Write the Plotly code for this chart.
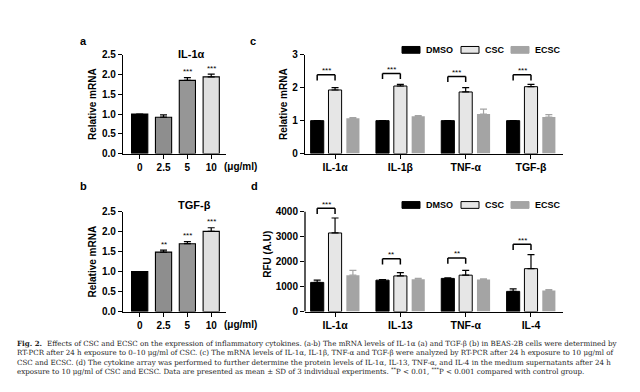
import plotly.graph_objects as go

# ---------------- data ----------------
dose_labels = ["0", "2.5", "5", "10"]
il1a_mrna = [1.00, 0.92, 1.85, 1.94]
il1a_mrna_sd = [0.00, 0.06, 0.07, 0.07]
il1a_sig = ["", "", "***", "***"]

tgfb_mrna = [1.00, 1.49, 1.70, 2.01]
tgfb_mrna_sd = [0.00, 0.05, 0.05, 0.09]
tgfb_sig = ["", "**", "***", "***"]

groups = ["DMSO", "CSC", "ECSC"]

genes_c = ["IL-1α", "IL-1β", "TNF-α", "TGF-β"]
c_dmso = [1.00, 1.00, 1.00, 1.00]
c_dmso_sd = [0.00, 0.00, 0.00, 0.00]
c_csc = [1.93, 2.05, 1.87, 2.03]
c_csc_sd = [0.07, 0.05, 0.13, 0.07]
c_ecsc = [1.07, 1.13, 1.20, 1.11]
c_ecsc_sd = [0.02, 0.02, 0.15, 0.07]
c_sig = ["***", "***", "***", "***"]
c_bracket = [2.39, 2.43, 2.34, 2.39]

cyto_d = ["IL-1α", "IL-13", "TNF-α", "IL-4"]
d_dmso = [1170, 1260, 1330, 810]
d_dmso_sd = [90, 25, 20, 100]
d_csc = [3150, 1430, 1460, 1720]
d_csc_sd = [600, 130, 190, 560]
d_ecsc = [1460, 1300, 1290, 850]
d_ecsc_sd = [190, 30, 20, 35]
d_sig = ["***", "**", "**", "***"]
d_bracket = [4140, 2120, 2150, 2700]

caption_head = "Fig. 2."
caption_lines = [
    "Effects of CSC and ECSC on the expression of inflammatory cytokines. (a-b) The mRNA levels of IL-1α (a) and TGF-β (b) in BEAS-2B cells were determined by",
    "RT-PCR after 24 h exposure to 0–10 μg/ml of CSC. (c) The mRNA levels of IL-1α, IL-1β, TNF-α and TGF-β were analyzed by RT-PCR after 24 h exposure to 10 μg/ml of",
    "CSC and ECSC. (d) The cytokine array was performed to further determine the protein levels of IL-1α, IL-13, TNF-α, and IL-4 in the medium supernatants after 24 h",
    "exposure to 10 μg/ml of CSC and ECSC. Data are presented as mean ± SD of 3 individual experiments. <sup>**</sup>P &lt; 0.01, <sup>***</sup>P &lt; 0.001 compared with control group.",
]

# ---------------- style ----------------
W, H = 640, 392
SANS = "Liberation Sans, Arial, sans-serif"
SERIF = "DejaVu Serif, serif"
dose_colors = ["#000000", "#8e8e8e", "#969696", "#e0e0e0"]
grp_fill = {"DMSO": "#000000", "CSC": "#e6e6e6", "ECSC": "#a4a4a4"}
grp_line = {"DMSO": 1.0, "CSC": 1.0, "ECSC": 0}
grp_err = {"DMSO": "#000000", "CSC": "#000000", "ECSC": "#a4a4a4"}

def px(x):
    return x / W

def py(y):
    return 1 - y / H

BARGAP = 0.18
BARGROUPGAP = 0.265
SLOT = (1 - BARGAP) / 3

fig = go.Figure()

def err(arr, color):
    return dict(type="data", array=arr, arrayminus=[0] * len(arr), symmetric=False,
                color=color, thickness=1.2, width=3.5)

# panel a / b
for vals, sds, ax in [(il1a_mrna, il1a_mrna_sd, ""), (tgfb_mrna, tgfb_mrna_sd, "2")]:
    fig.add_trace(go.Bar(x=dose_labels, y=vals, width=0.68,
                         marker=dict(color=dose_colors, line=dict(color="black", width=1.1)),
                         error_y=err(sds, "black"), showlegend=False,
                         xaxis="x" + ax, yaxis="y" + ax))

# panel c / d
series_c = {"DMSO": (c_dmso, c_dmso_sd), "CSC": (c_csc, c_csc_sd), "ECSC": (c_ecsc, c_ecsc_sd)}
series_d = {"DMSO": (d_dmso, d_dmso_sd), "CSC": (d_csc, d_csc_sd), "ECSC": (d_ecsc, d_ecsc_sd)}
for cats, series, ax in [(genes_c, series_c, "3"), (cyto_d, series_d, "4")]:
    for g in groups:
        vals, sds = series[g]
        fig.add_trace(go.Bar(name=g, x=cats, y=vals,
                             marker=dict(color=grp_fill[g], line=dict(color="black", width=grp_line[g])),
                             error_y=err(sds, grp_err[g]), showlegend=False,
                             xaxis="x" + ax, yaxis="y" + ax))

axis_common = dict(showline=True, linecolor="black", linewidth=1.3, ticks="outside",
                   ticklen=4, tickwidth=1.3, tickcolor="black", showgrid=False,
                   zeroline=False, tickfont=dict(family=SANS, size=10, color="black", weight="bold"))
title_font = dict(family=SANS, size=10, color="black", weight="bold")

xa_dom = [px(115), px(218)]
xc_dom = [px(297), px(555)]
top_dom = [py(144), py(42)]
bot_dom = [py(307), py(204)]
d_top_val = 4600
d_dom = [py(307), py(307 - 103 * d_top_val / 4000)]

fig.update_layout(
    width=W, height=H, margin=dict(l=0, r=0, t=0, b=0),
    paper_bgcolor="white", plot_bgcolor="white",
    barmode="group", bargap=BARGAP, bargroupgap=BARGROUPGAP,
    font=dict(family=SANS, color="black"),
    xaxis=dict(axis_common, domain=xa_dom, anchor="y", type="category", range=[-0.70, 3.62]),
    yaxis=dict(axis_common, domain=top_dom, anchor="x", range=[0, 2.5], dtick=0.5, tickformat=".1f",
               title=dict(text="Relative mRNA", font=title_font, standoff=3)),
    xaxis2=dict(axis_common, domain=xa_dom, anchor="y2", type="category", range=[-0.70, 3.62]),
    yaxis2=dict(axis_common, domain=bot_dom, anchor="x2", range=[0, 2.5], dtick=0.5, tickformat=".1f",
                title=dict(text="Relative mRNA", font=title_font, standoff=3)),
    xaxis3=dict(axis_common, domain=xc_dom, anchor="y3", type="category", range=[-0.46, 3.49]),
    yaxis3=dict(axis_common, domain=top_dom, anchor="x3", range=[0, 3], dtick=1,
                title=dict(text="Relative mRNA", font=title_font, standoff=2)),
    xaxis4=dict(axis_common, domain=xc_dom, anchor="y4", type="category", range=[-0.46, 3.49]),
    yaxis4=dict(axis_common, domain=d_dom, anchor="x4", range=[0, d_top_val], showline=False,
                tickvals=[0, 1000, 2000, 3000, 4000],
                title=dict(text="RFU (A.U)", font=title_font, standoff=2)),
)
fig.update_layout(xaxis3_tickfont_size=10.5, xaxis4_tickfont_size=10.5)

shapes = []
ann = []

# y axis line of panel d up to the last tick
shapes.append(dict(type="line", xref="x4 domain", yref="y4", x0=0, x1=0, y0=0, y1=4000,
                   line=dict(color="black", width=1.3)))

# stars above bars in a / b
for vals, sds, sig, ax in [(il1a_mrna, il1a_mrna_sd, il1a_sig, ""), (tgfb_mrna, tgfb_mrna_sd, tgfb_sig, "2")]:
    for i, s in enumerate(sig):
        if s:
            ann.append(dict(x=i, y=vals[i] + sds[i], xref="x" + ax, yref="y" + ax, text=s,
                            showarrow=False, yanchor="middle", yshift=6,
                            font=dict(family=SANS, size=8, color="black")))

# significance brackets in c / d
for br, sig, ax, leg in [(c_bracket, c_sig, "3", 0.17), (d_bracket, d_sig, "4", 230)]:
    for i, (b, s) in enumerate(zip(br, sig)):
        x0, x1 = i - SLOT, i
        for (xa, ya, xb, yb) in [(x0, b - leg, x0, b), (x0, b, x1, b), (x1, b, x1, b - leg)]:
            shapes.append(dict(type="line", xref="x" + ax, yref="y" + ax, x0=xa, y0=ya, x1=xb, y1=yb,
                               line=dict(color="black", width=1.5)))
        ann.append(dict(x=(x0 + x1) / 2, y=b, xref="x" + ax, yref="y" + ax, text=s, showarrow=False,
                        yanchor="middle", yshift=4, font=dict(family=SANS, size=8, color="black")))

# manual legends for c and d
box_start = [394, 453, 503]
box_w = 18
for ly in [37, 197]:
    for g, bx in zip(groups, box_start):
        shapes.append(dict(type="rect", xref="paper", yref="paper", x0=px(bx), x1=px(bx + box_w),
                           y0=py(ly + 3.5), y1=py(ly - 3.5), fillcolor=grp_fill[g],
                           line=dict(color="black" if g != "ECSC" else grp_fill[g], width=1)))
        ann.append(dict(x=px(bx + box_w + 4), y=py(ly), xref="paper", yref="paper", text=g,
                        showarrow=False, xanchor="left", yanchor="middle",
                        font=dict(family=SANS, size=9, color="black", weight="bold")))

# panel letters and titles
for t, x, y in [("a", 70, 20), ("b", 70, 177), ("c", 245, 20), ("d", 246, 177)]:
    ann.append(dict(x=px(x), y=py(y), xref="paper", yref="paper", text=t, showarrow=False,
                    font=dict(family=SANS, size=11, color="black", weight="bold")))
for t, x, y in [("IL-1α", 168, 33), ("TGF-β", 168, 197)]:
    ann.append(dict(x=px(x), y=py(y), xref="paper", yref="paper", text=t, showarrow=False,
                    font=dict(family=SANS, size=11, color="black", weight="bold")))
for y in [157, 320]:
    ann.append(dict(x=px(214), y=py(y), xref="paper", yref="paper", text="(μg/ml)", showarrow=False,
                    xanchor="left", yanchor="middle",
                    font=dict(family=SANS, size=10, color="black", weight="bold")))

# caption
cap_y = [340, 349.5, 359, 368.5]
ann.append(dict(x=px(7), y=py(cap_y[0]), xref="paper", yref="paper", text=caption_head,
                showarrow=False, xanchor="left", yanchor="middle",
                font=dict(family=SERIF, size=7.1, color="#222222", weight="bold")))
for k, line in enumerate(caption_lines):
    ann.append(dict(x=px(37 if k == 0 else 7), y=py(cap_y[k]), xref="paper", yref="paper", text=line,
                    showarrow=False, xanchor="left", yanchor="middle",
                    font=dict(family=SERIF, size=7.1, color="#222222")))

fig.update_layout(shapes=shapes, annotations=ann)
fig.write_html("out.html")
